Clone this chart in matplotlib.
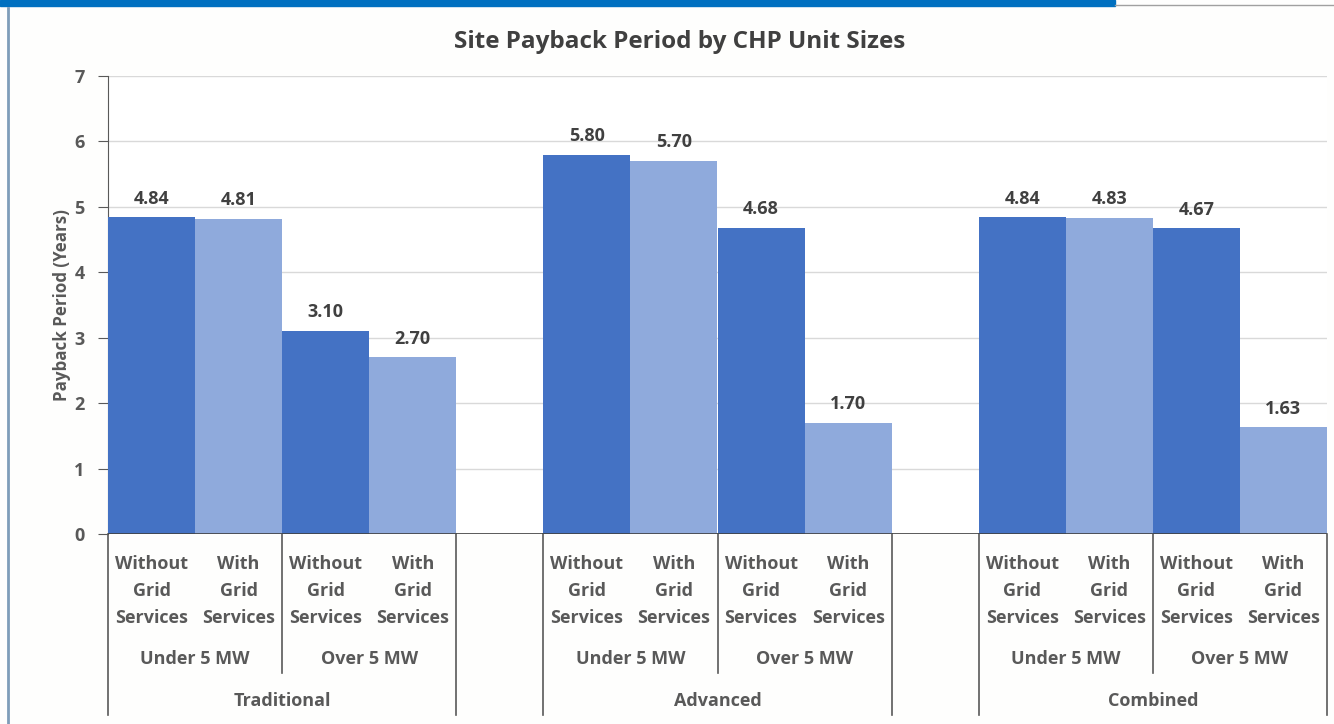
import numpy as np
import matplotlib
matplotlib.use('Agg')
import matplotlib.pyplot as plt
from matplotlib.patches import Rectangle
from matplotlib.lines import Line2D

plt.rcParams['font.family'] = ['Open Sans', 'DejaVu Sans']

groups = ['Traditional', 'Advanced', 'Combined']
sizes = ['Under 5 MW', 'Over 5 MW']
services = ['Without\nGrid\nServices', 'With\nGrid\nServices']
without_grid = [4.84, 3.10, 5.80, 4.68, 4.84, 4.67]
with_grid = [4.81, 2.70, 5.70, 1.70, 4.83, 1.63]

dark = '#4472C4'
light = '#8FAADC'
txt = '#595959'
fw = 'bold'
fs = 13

fig = plt.figure(figsize=(13.34, 7.24), dpi=100)
fig.patch.set_facecolor('#FEFEFD')
ax = fig.add_axes([108 / 1334, 1 - 534 / 724, (1327 - 108) / 1334, (534 - 76) / 724])
ax.set_facecolor('white')

# bar positions: 4 per group, one empty slot between groups
xs, vals, cols = [], [], []
for g in range(len(groups)):
    for s in range(len(sizes)):
        k = g * 2 + s
        base = g * 5 + s * 2
        xs += [base, base + 1]
        vals += [without_grid[k], with_grid[k]]
        cols += [dark, light]

ax.bar(xs, vals, width=1.0, color=cols, zorder=3)
for x, v in zip(xs, vals):
    ax.text(x, v + 0.15, f'{v:.2f}', ha='center', va='bottom', fontsize=fs,
            fontweight=fw, color='#404040', zorder=4)

ax.set_xlim(-0.5, 13.5)
ax.set_ylim(0, 7)
ax.set_yticks(range(8))
ax.yaxis.grid(True, color='#D9D9D9', linewidth=1, zorder=0)
ax.set_xticks([])
for sp in ['top', 'right']:
    ax.spines[sp].set_visible(False)
ax.spines['bottom'].set_visible(False)
ax.spines['left'].set_color('#595959')
ax.axhline(0, color='#404040', linewidth=1.2, zorder=5)
ax.tick_params(axis='y', direction='out', length=7, color='#595959',
               labelsize=fs, labelcolor=txt, pad=10)
for lab in ax.get_yticklabels():
    lab.set_fontweight(fw)
ax.set_ylabel('Payback Period (Years)', fontsize=12.2, fontweight=fw,
              color=txt, labelpad=2)

fig.text(680 / 1334, 1 - 42 / 724, 'Site Payback Period by CHP Unit Sizes',
         fontsize=17.5, fontweight=fw, color='#404040', ha='center', va='center')

# multi-level category axis
trans = ax.get_xaxis_transform()
short = -(673 - 534) / 458
full = -(715 - 534) / 458
for g in range(len(groups)):
    start = g * 5 - 0.5
    for edge in [start, start + 4]:
        ax.add_line(Line2D([edge, edge], [0, full], transform=trans,
                           color='#595959', lw=1.2, clip_on=False))
    ax.add_line(Line2D([start + 2, start + 2], [0, short], transform=trans,
                       color='#595959', lw=1.2, clip_on=False))
    for s in range(len(sizes)):
        for j in range(2):
            ax.text(g * 5 + s * 2 + j, -57 / 458, services[j], transform=trans,
                    ha='center', va='center', fontsize=fs, fontweight=fw,
                    color=txt, linespacing=1.62)
        ax.text(g * 5 + s * 2 + 0.5, -(659 - 534) / 458, sizes[s],
                transform=trans, ha='center', va='center', fontsize=fs,
                fontweight=fw, color=txt)
    ax.text(g * 5 + 1.5, -(701 - 534) / 458, groups[g], transform=trans,
            ha='center', va='center', fontsize=fs, fontweight=fw, color=txt)

# page decorations
fig.add_artist(Rectangle((0, 1 - 6 / 724), 1115 / 1334, 6 / 724,
                         transform=fig.transFigure, color='#0070C0'))
fig.add_artist(Line2D([1115 / 1334, 1], [1 - 5 / 724, 1 - 5 / 724],
                      transform=fig.transFigure, color='#A0A0A0', lw=1))
fig.add_artist(Line2D([8 / 1334, 8 / 1334], [0, 1 - 8 / 724],
                      transform=fig.transFigure, color='#7F9DB9', lw=2))

fig.savefig('out.png', dpi=100, facecolor=fig.get_facecolor())
